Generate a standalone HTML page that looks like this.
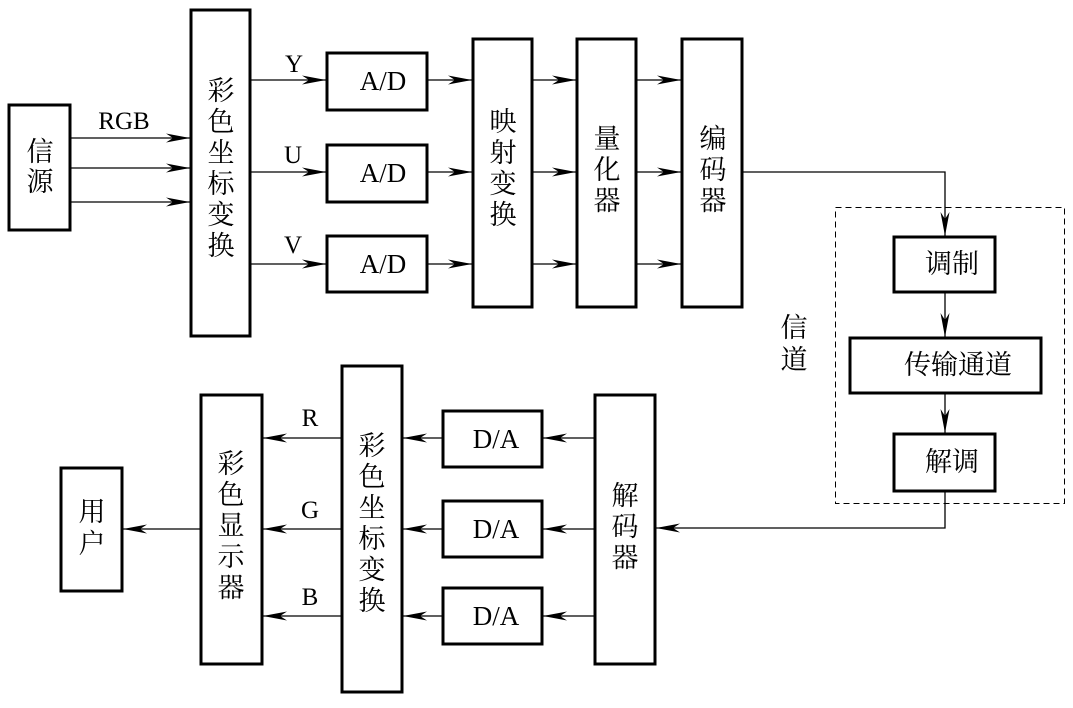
<!DOCTYPE html>
<html><head><meta charset="utf-8"><style>
html,body{margin:0;padding:0;background:#fff;}
svg text{font-family:"Liberation Serif","Noto Serif CJK SC",serif;fill:#000;}
</style></head><body>
<svg width="1073" height="703" viewBox="0 0 1073 703" xmlns="http://www.w3.org/2000/svg">
<defs>
<marker id="a" markerWidth="26" markerHeight="12" refX="24" refY="6" orient="auto" markerUnits="userSpaceOnUse">
<path d="M0,1.5 L24,6 L0,10.5 L7,6 Z" fill="#000"/>
</marker>
</defs>
<g fill="none" stroke="#000" stroke-width="3">
<rect x="9" y="105" width="61" height="125"/>
<rect x="191" y="10" width="59" height="326"/>
<rect x="327" y="53" width="100" height="57"/>
<rect x="327" y="145" width="100" height="57"/>
<rect x="327" y="236" width="100" height="56"/>
<rect x="473" y="39" width="59" height="268"/>
<rect x="577" y="39" width="59" height="268"/>
<rect x="682" y="39" width="60" height="268"/>
<rect x="894" y="237" width="101" height="55"/>
<rect x="850" y="338" width="191" height="55"/>
<rect x="894" y="434" width="101" height="57"/>
<rect x="595" y="395" width="60" height="269"/>
<rect x="443" y="411" width="99" height="56"/>
<rect x="443" y="501" width="99" height="56"/>
<rect x="443" y="588" width="99" height="56"/>
<rect x="342" y="366" width="60" height="326"/>
<rect x="201" y="395" width="61" height="269"/>
<rect x="61" y="468" width="61" height="123"/>
</g>
<rect x="835.5" y="207.5" width="229" height="296" fill="none" stroke="#000" stroke-width="1" stroke-dasharray="6,4"/>
<g stroke="#000" stroke-width="1.3" fill="none" marker-end="url(#a)">
<path d="M70,138 H190"/><path d="M70,168 H190"/><path d="M70,202 H190"/>
<path d="M250,80 H326"/><path d="M250,172 H326"/><path d="M250,264 H326"/>
<path d="M427,80 H472"/><path d="M427,172 H472"/><path d="M427,264 H472"/>
<path d="M532,80 H576"/><path d="M532,172 H576"/><path d="M532,264 H576"/>
<path d="M636,80 H681"/><path d="M636,172 H681"/><path d="M636,264 H681"/>
<path d="M742,172 H945 V236"/>
<path d="M945,292 V337"/>
<path d="M945,393 V433"/>
<path d="M945,491 V528 H656"/>
<path d="M594,438 H543"/><path d="M594,529 H543"/><path d="M594,616 H543"/>
<path d="M442,438 H403"/><path d="M442,529 H403"/><path d="M442,616 H403"/>
<path d="M341,438 H263"/><path d="M341,529 H263"/><path d="M341,616 H263"/>
<path d="M200,529 H123"/>
</g>
<g text-anchor="middle" style="font-size:25px">
<text x="124" y="129">RGB</text>
<text x="294" y="72">Y</text>
<text x="293" y="163">U</text>
<text x="293" y="253">V</text>
<text x="310" y="426">R</text>
<text x="310" y="518">G</text>
<text x="310" y="605">B</text>
</g>
<g text-anchor="middle" style="font-size:27px">
<text x="383" y="90">A/D</text>
<text x="383" y="182">A/D</text>
<text x="383" y="273">A/D</text>
<text x="496" y="448">D/A</text>
<text x="496" y="538">D/A</text>
<text x="496" y="625">D/A</text>
</g>
<g text-anchor="middle" style="font-size:27px">
<text x="40" y="161">信</text><text x="40" y="191">源</text>
<text x="221" y="100">彩</text><text x="221" y="131">色</text><text x="221" y="162">坐</text><text x="221" y="193">标</text><text x="221" y="224">变</text><text x="221" y="255">换</text>
<text x="503" y="131">映</text><text x="503" y="162">射</text><text x="503" y="193">变</text><text x="503" y="224">换</text>
<text x="607" y="148">量</text><text x="607" y="179">化</text><text x="607" y="210">器</text>
<text x="713" y="148">编</text><text x="713" y="179">码</text><text x="713" y="210">器</text>
<text x="952" y="273">调制</text>
<text x="958" y="374">传输通道</text>
<text x="952" y="471">解调</text>
<text x="794" y="337">信</text><text x="794" y="369">道</text>
<text x="625" y="505">解</text><text x="625" y="536">码</text><text x="625" y="567">器</text>
<text x="372" y="455">彩</text><text x="372" y="486">色</text><text x="372" y="517">坐</text><text x="372" y="548">标</text><text x="372" y="579">变</text><text x="372" y="610">换</text>
<text x="231" y="473">彩</text><text x="231" y="504">色</text><text x="231" y="535">显</text><text x="231" y="566">示</text><text x="231" y="597">器</text>
<text x="92" y="521">用</text><text x="92" y="553">户</text>
</g>
</svg>
</body></html>
